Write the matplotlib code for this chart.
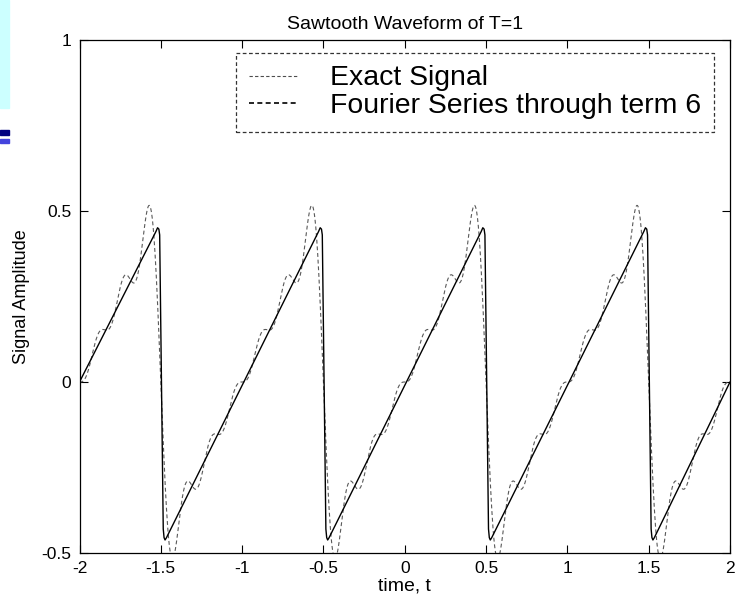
import numpy as np
import matplotlib.pyplot as plt
from matplotlib.lines import Line2D
from matplotlib.patches import Rectangle

plt.rcParams['font.family'] = ['Liberation Sans', 'DejaVu Sans']

# sawtooth "exact" signal: jumps at half periods, corner values
jump_times = [-1.5, -0.5, 0.5, 1.5]
corner_dt = [-0.030, -0.020, -0.012, -0.007, 0.015, 0.020, 0.026, 0.035]
corner_val = [0.440, 0.451, 0.447, 0.430, -0.430, -0.455, -0.462, -0.455]
t_start, t_end = -2.0, 2.0
v_start, v_end = 0.0, 0.0

# fourier coefficients b_n (n = 1..6) of the sin terms
fourier_n = [1, 2, 3, 4, 5, 6]
fourier_b = [0.3183, -0.1592, 0.1061, -0.0796, 0.0637, -0.0531]
period = 1.0

# punkte der exakten kurve zusammensetzen
t_exact = [t_start]
y_exact = [v_start]
for j in jump_times:
    for dt, v in zip(corner_dt, corner_val):
        t_exact.append(j + dt)
        y_exact.append(v)
t_exact.append(t_end)
y_exact.append(v_end)

# fourier reihe bis term 6
t = np.linspace(t_start, t_end, 1601)
y_fs = np.zeros_like(t)
for n, b in zip(fourier_n, fourier_b):
    y_fs += b * np.sin(2 * np.pi * n * t / period)

fig = plt.figure(figsize=(7.38, 6.05), dpi=100)
ax = fig.add_axes([79.5 / 738, 52 / 605, (730 - 79.5) / 738, (553 - 40) / 605])

ax.plot(t, y_fs, color='0.35', linestyle=(0, (3.5, 2.5)), linewidth=0.8)
ax.plot(t_exact, y_exact, color='black', linewidth=1.0)

ax.set_xlim(-2, 2)
ax.set_ylim(-0.5, 1)
ax.set_xticks(np.arange(-2, 2.01, 0.5))
ax.set_xticklabels(['-2', '-1.5', '-1', '-0.5', '0', '0.5', '1', '1.5', '2'])
ax.set_yticks([-0.5, 0, 0.5, 1])
ax.set_yticklabels(['-0.5', '0', '0.5', '1'])
ax.tick_params(direction='in', length=6, width=0.8, top=True, right=True,
               labelsize=12.5, pad=6)
for s in ax.spines.values():
    s.set_linewidth(0.9)

ax.set_title('Sawtooth Waveform of T=1', fontsize=14, pad=8)
ax.set_xlabel('time, t', fontsize=14, labelpad=1)
ax.set_ylabel('Signal Amplitude', fontsize=13, labelpad=8)

# legende wie im original (linienstile stimmen dort nicht mit dem plot)
h1 = Line2D([], [], color='0.3', linestyle=(0, (3, 2)), linewidth=0.8)
h2 = Line2D([], [], color='black', linestyle=(0, (3, 2)), linewidth=1.2)
leg = ax.legend([h1, h2], ['Exact Signal', 'Fourier Series through term 6'],
                loc='upper right', bbox_to_anchor=(714.3 / 738, 1 - 52.7 / 605),
                bbox_transform=fig.transFigure, fontsize=20.4, frameon=True,
                fancybox=False, borderaxespad=0, handlelength=1.77,
                handletextpad=1.12, labelspacing=0.05, borderpad=0.45)
fr = leg.get_frame()
fr.set_edgecolor('black')
fr.set_linestyle((0, (3, 2)))
fr.set_linewidth(0.9)

# reste der folie links oben
fig.patches.append(Rectangle((0, 1 - 108 / 605), 9 / 738, 108 / 605,
                             transform=fig.transFigure, color='#ccffff', zorder=0))
fig.patches.append(Rectangle((0, 1 - 135 / 605), 9 / 738, 5 / 605,
                             transform=fig.transFigure, color='#000080'))
fig.patches.append(Rectangle((0, 1 - 143 / 605), 9 / 738, 4 / 605,
                             transform=fig.transFigure, color='#4444dd'))

fig.savefig('out.png', dpi=100)
